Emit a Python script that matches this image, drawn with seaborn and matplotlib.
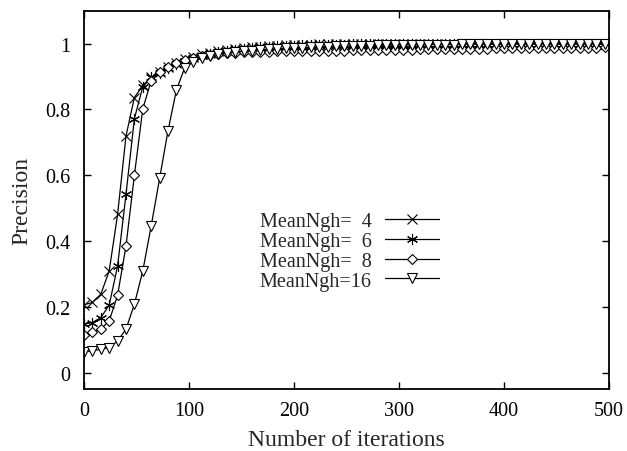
import matplotlib
matplotlib.use("Agg")
import matplotlib.pyplot as plt
import seaborn as sns
import pandas as pd

iterations = list(range(0, 497, 8))

ngh4 = [0.206, 0.213, 0.238, 0.309, 0.481, 0.719, 0.836, 0.873, 0.897, 0.915,
        0.930, 0.942, 0.952, 0.960, 0.967, 0.972, 0.977, 0.981, 0.984, 0.987,
        0.989, 0.991, 0.993, 0.994, 0.995, 0.996, 0.997, 0.997, 0.998, 0.998,
        0.998, 0.999, 0.998, 0.999, 0.999, 0.998, 0.999, 0.999, 0.999, 0.998,
        0.999, 0.999, 0.999, 0.999, 0.998, 0.999, 0.999, 0.999, 0.999, 0.999,
        0.998, 0.999, 0.999, 0.999, 0.999, 0.999, 0.999, 0.998, 0.999, 0.999,
        0.999, 0.999, 0.999]
ngh6 = [0.147, 0.152, 0.167, 0.205, 0.324, 0.542, 0.772, 0.869, 0.897, 0.912,
        0.926, 0.938, 0.948, 0.956, 0.963, 0.969, 0.974, 0.978, 0.982, 0.985,
        0.987, 0.989, 0.991, 0.992, 0.993, 0.994, 0.995, 0.996, 0.996, 0.997,
        0.997, 0.997, 0.998, 0.998, 0.998, 0.998, 0.998, 0.999, 0.998, 0.998,
        0.999, 0.998, 0.999, 0.999, 0.998, 0.999, 0.999, 0.998, 0.999, 0.999,
        0.999, 0.998, 0.999, 0.999, 0.999, 0.999, 0.998, 0.999, 0.999, 0.999,
        0.999, 0.999, 0.999]
ngh8 = [0.113, 0.122, 0.132, 0.157, 0.235, 0.385, 0.600, 0.802, 0.887, 0.914,
        0.930, 0.941, 0.950, 0.956, 0.961, 0.965, 0.968, 0.970, 0.972, 0.973,
        0.974, 0.975, 0.975, 0.976, 0.976, 0.977, 0.977, 0.978, 0.978, 0.978,
        0.979, 0.979, 0.980, 0.980, 0.980, 0.981, 0.981, 0.982, 0.982, 0.982,
        0.983, 0.983, 0.983, 0.984, 0.984, 0.984, 0.985, 0.985, 0.985, 0.986,
        0.986, 0.986, 0.986, 0.987, 0.987, 0.987, 0.987, 0.988, 0.988, 0.988,
        0.988, 0.988, 0.989]
ngh16 = [0.063, 0.066, 0.071, 0.076, 0.096, 0.132, 0.208, 0.309, 0.446, 0.590,
         0.735, 0.859, 0.927, 0.945, 0.955, 0.962, 0.967, 0.971, 0.974, 0.977,
         0.979, 0.981, 0.983, 0.985, 0.986, 0.987, 0.988, 0.989, 0.990, 0.991,
         0.992, 0.992, 0.993, 0.994, 0.994, 0.995, 0.995, 0.995, 0.996, 0.996,
         0.996, 0.997, 0.997, 0.997, 0.997, 0.998, 0.998, 0.998, 0.998, 0.998,
         0.998, 0.999, 0.998, 0.999, 0.999, 0.999, 0.998, 0.999, 0.999, 0.999,
         0.999, 0.999, 0.999]

labels = ["MeanNgh=  4", "MeanNgh=  6", "MeanNgh=  8", "MeanNgh=16"]
series = [ngh4, ngh6, ngh8, ngh16]
x_ticks = [0, 100, 200, 300, 400, 500]
y_ticks = [0, 0.2, 0.4, 0.6, 0.8, 1]
y_ticklabels = ["0", "0.2", "0.4", "0.6", "0.8", "1"]

sns.set_theme(style="ticks")
plt.rcParams["font.family"] = ["Liberation Serif", "DejaVu Serif"]

fig = plt.figure(figsize=(6.27, 4.52), dpi=100)
ax = fig.add_axes([84 / 627, 62 / 452, 525 / 627, 378.3 / 452])

markers = ["x", (6, 2, 0), "D", "v"]
msizes = [7, 8, 5, 6.5]

for lab, vals, mk, ms in zip(labels, series, markers, msizes):
    df = pd.DataFrame({"it": iterations, "p": vals})
    sns.lineplot(data=df, x="it", y="p", ax=ax, color="black", lw=0.9,
                 marker=mk, markersize=ms, markerfacecolor="white",
                 markeredgecolor="black", markeredgewidth=0.8, label=lab)

ax.set_xlim(0, 500)
ax.set_ylim(-0.05, 1.1)
ax.set_xticks(x_ticks)
ax.set_xticklabels([str(v) for v in x_ticks])
ax.set_yticks(y_ticks)
ax.set_yticklabels(y_ticklabels)
ax.tick_params(direction="in", length=5, width=1.0, labelsize=14.5,
               top=True, right=True, colors="black")
ax.tick_params(axis="y", pad=10)
ax.tick_params(axis="x", pad=9)
for sp in ax.spines.values():
    sp.set_linewidth(1.3)
    sp.set_color("black")

ax.set_xlabel("Number of iterations", fontsize=17, labelpad=6)
ax.set_ylabel("Precision", fontsize=17, labelpad=9)

ax.legend(loc="upper left", bbox_to_anchor=(0.335, 0.467), frameon=False,
          markerfirst=False, handlelength=2.7, handletextpad=0.65,
          labelspacing=0.03, borderpad=0, borderaxespad=0, fontsize=14.5)

fig.savefig("out.png", dpi=100)
